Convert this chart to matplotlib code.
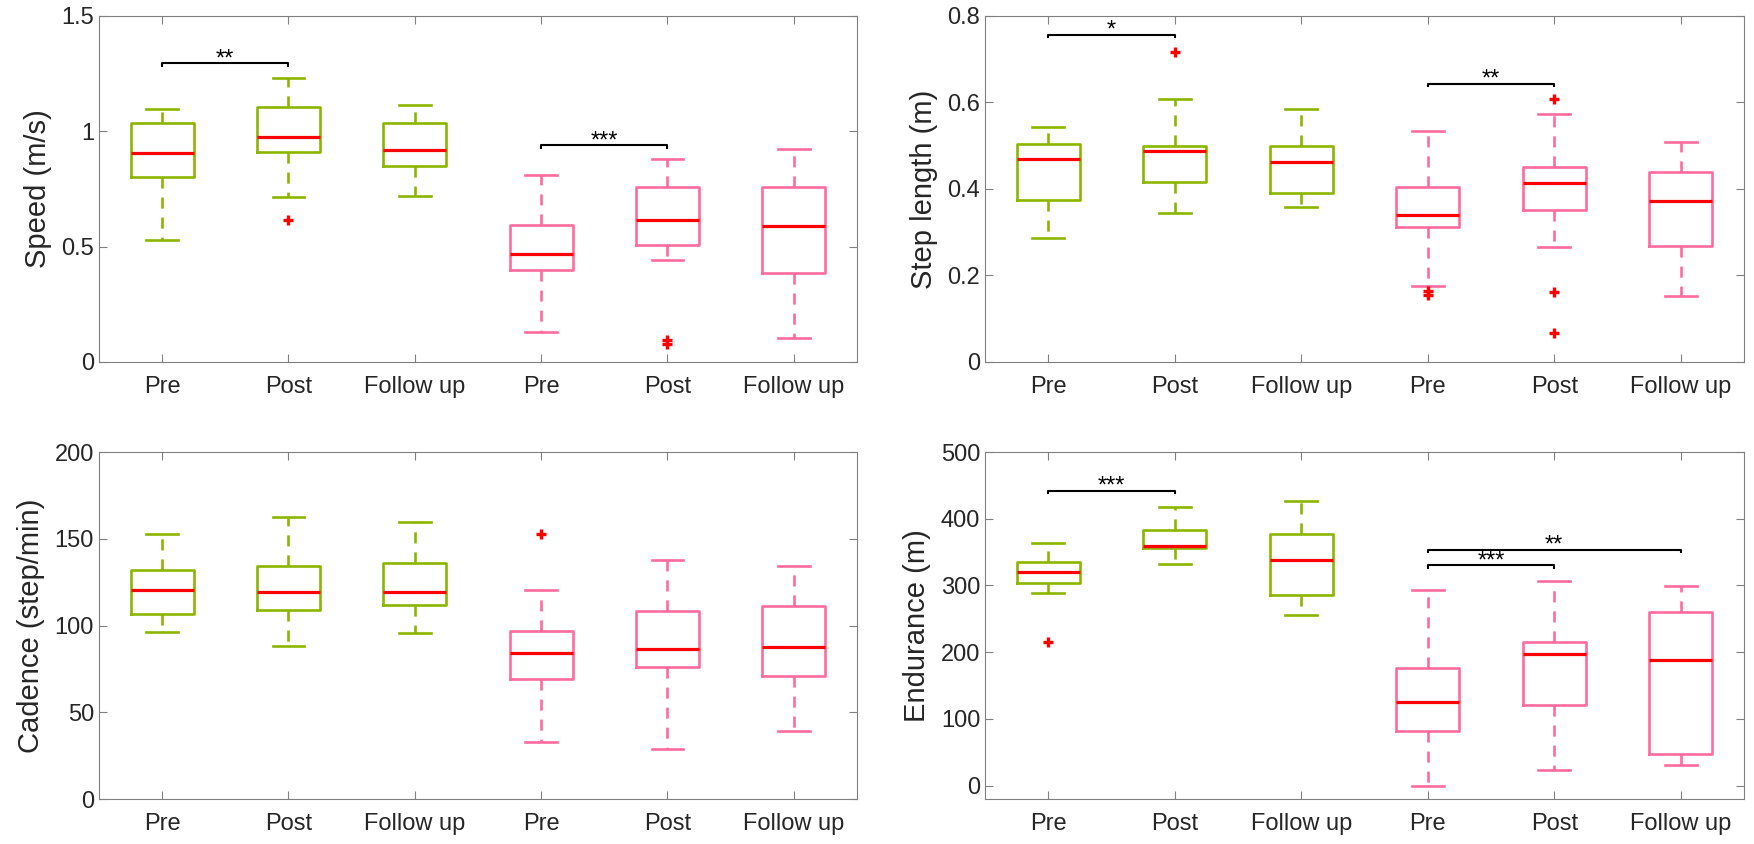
import matplotlib
matplotlib.use("Agg")
import matplotlib.pyplot as plt

plt.rcParams["font.family"] = ["Liberation Sans", "DejaVu Sans"]

GREEN = "#8CB500"
PINK = "#FF6B9C"
RED = "#FF0000"
AXIS_GREY = "#808080"

groups = ["Pre", "Post", "Follow up", "Pre", "Post", "Follow up"]
box_colors = [GREEN, GREEN, GREEN, PINK, PINK, PINK]

# Speed (m/s)
speed_lo = [0.53, 0.717, 0.72, 0.13, 0.44, 0.105]
speed_q1 = [0.80, 0.909, 0.85, 0.40, 0.505, 0.385]
speed_med = [0.905, 0.974, 0.92, 0.47, 0.615, 0.59]
speed_q3 = [1.035, 1.104, 1.035, 0.595, 0.76, 0.76]
speed_hi = [1.095, 1.231, 1.115, 0.81, 0.88, 0.925]
speed_fliers = [[], [0.615], [], [], [0.08, 0.095], []]
speed_sig = [(1, 2, 1.295, "**"), (4, 5, 0.94, "***")]

# Step length (m)
step_lo = [0.287, 0.344, 0.358, 0.175, 0.267, 0.153]
step_q1 = [0.374, 0.415, 0.390, 0.311, 0.352, 0.269]
step_med = [0.470, 0.487, 0.463, 0.339, 0.413, 0.372]
step_q3 = [0.504, 0.500, 0.499, 0.404, 0.450, 0.440]
step_hi = [0.543, 0.607, 0.585, 0.534, 0.573, 0.509]
step_fliers = [[], [0.716], [], [0.165, 0.155], [0.607, 0.162, 0.067], []]
step_sig = [(1, 2, 0.756, "*"), (4, 5, 0.643, "**")]

# Cadence (step/min)
cad_lo = [96.2, 88.3, 95.8, 33.1, 29.0, 39.2]
cad_q1 = [106.9, 109.2, 111.7, 69.4, 76.0, 70.8]
cad_med = [120.4, 119.6, 119.6, 84.2, 86.5, 87.7]
cad_q3 = [131.9, 134.4, 136.0, 96.7, 108.3, 111.3]
cad_hi = [152.5, 162.5, 159.8, 120.4, 137.9, 134.4]
cad_fliers = [[], [], [], [152.5], [], []]
cad_sig = []

# Endurance (m)
end_lo = [288.6, 332.7, 256.0, 0.0, 23.0, 31.1]
end_q1 = [304.1, 356.2, 286.1, 81.7, 121.2, 48.1]
end_med = [319.6, 359.7, 337.7, 125.8, 197.4, 188.4]
end_q3 = [334.7, 383.8, 377.8, 175.9, 215.4, 261.0]
end_hi = [363.7, 418.3, 426.4, 293.1, 306.6, 298.6]
end_fliers = [[215.9], [], [], [], [], []]
end_sig = [(1, 2, 441.9, "***"), (4, 6, 353.7, "**"), (4, 5, 330.2, "***")]


def draw_panel(ax, lo, q1, med, q3, hi, fliers, sig, ylabel, ylim, yticks, yticklabels):
    stats = []
    for i in range(len(groups)):
        stats.append(dict(whislo=lo[i], q1=q1[i], med=med[i], q3=q3[i],
                          whishi=hi[i], fliers=fliers[i], label=groups[i]))
    pos = list(range(1, len(groups) + 1))
    art = ax.bxp(stats, positions=pos, widths=0.5, capwidths=0.25,
                 showfliers=True, patch_artist=False,
                 medianprops=dict(color=RED, linewidth=2.3),
                 flierprops=dict(marker="+", markeredgecolor=RED,
                                 markersize=7, markeredgewidth=2.4,
                                 linestyle="none"))
    for i, c in enumerate(box_colors):
        art["boxes"][i].set(color=c, linewidth=1.9)
        for w in art["whiskers"][2 * i:2 * i + 2]:
            w.set(color=c, linewidth=1.9, linestyle=(0, (4.2, 3.4)))
        for cp in art["caps"][2 * i:2 * i + 2]:
            cp.set(color=c, linewidth=1.9)

    # significance brackets
    span = ylim[1] - ylim[0]
    tick = 0.01 * span
    for x1, x2, y, txt in sig:
        ax.plot([x1, x1, x2, x2], [y - tick, y, y, y - tick],
                color="black", linewidth=1.5, solid_capstyle="butt")
        ax.annotate(txt, xy=((x1 + x2) / 2, y), xytext=(0, -5),
                    textcoords="offset points", ha="center", va="bottom",
                    fontsize=17, color="black")

    ax.set_xlim(0.5, 6.5)
    ax.set_ylim(*ylim)
    ax.set_yticks(yticks)
    ax.set_yticklabels(yticklabels)
    ax.set_xticks(pos)
    ax.set_xticklabels(groups)
    ax.set_ylabel(ylabel, fontsize=21, color="#262626", labelpad=7)
    ax.tick_params(direction="in", top=True, right=True, length=6,
                   width=0.8, color=AXIS_GREY, labelsize=17,
                   labelcolor="#262626")
    ax.tick_params(axis="x", pad=10)
    for s in ax.spines.values():
        s.set_color(AXIS_GREY)
        s.set_linewidth(0.8)


fig = plt.figure(figsize=(17.54, 8.44), dpi=100)
ax_speed = fig.add_axes([0.0564, 0.5711, 0.4322, 0.4100])
ax_step = fig.add_axes([0.5616, 0.5711, 0.4327, 0.4100])
ax_cad = fig.add_axes([0.0564, 0.0533, 0.4322, 0.4111])
ax_end = fig.add_axes([0.5616, 0.0533, 0.4327, 0.4111])

draw_panel(ax_speed, speed_lo, speed_q1, speed_med, speed_q3, speed_hi,
           speed_fliers, speed_sig, "Speed (m/s)", (0, 1.5),
           [0, 0.5, 1, 1.5], ["0", "0.5", "1", "1.5"])
draw_panel(ax_step, step_lo, step_q1, step_med, step_q3, step_hi,
           step_fliers, step_sig, "Step length (m)", (0, 0.8),
           [0, 0.2, 0.4, 0.6, 0.8], ["0", "0.2", "0.4", "0.6", "0.8"])
draw_panel(ax_cad, cad_lo, cad_q1, cad_med, cad_q3, cad_hi,
           cad_fliers, cad_sig, "Cadence (step/min)", (0, 200),
           [0, 50, 100, 150, 200], ["0", "50", "100", "150", "200"])
draw_panel(ax_end, end_lo, end_q1, end_med, end_q3, end_hi,
           end_fliers, end_sig, "Endurance (m)", (-20, 500),
           [0, 100, 200, 300, 400, 500],
           ["0", "100", "200", "300", "400", "500"])

fig.savefig("out.png", dpi=100)
